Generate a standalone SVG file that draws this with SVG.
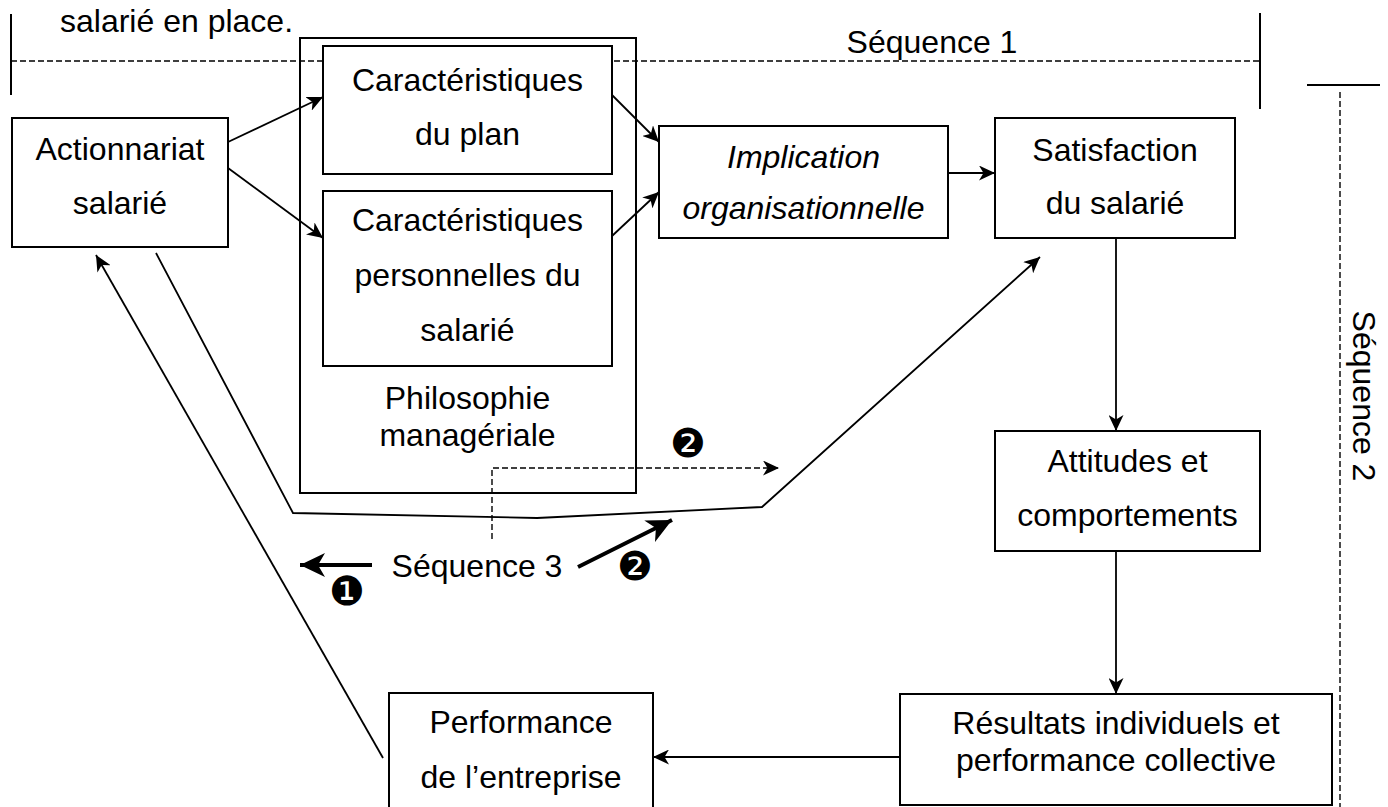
<svg xmlns="http://www.w3.org/2000/svg" width="1388" height="807" viewBox="0 0 1388 807">
<style>
  .box { fill: #fff; stroke: #000; stroke-width: 2; }
  .frame { fill: none; stroke: #000; stroke-width: 2; }
  .t { font-family: "Liberation Sans", Arial, sans-serif; font-size: 32px; fill: #000; text-anchor: middle; }
  .it { font-style: italic; }
  .c { fill: none; stroke: #000; stroke-width: 1.8; }
  .thick { fill: none; stroke: #000; stroke-width: 4; }
  .dash { fill: none; stroke: #000; stroke-width: 1.4; stroke-dasharray: 6 3; }
  .rule { fill: none; stroke: #000; stroke-width: 2; }
  .num { font-family: "DejaVu Sans", sans-serif; font-size: 40px; fill: #000; text-anchor: middle; }
</style>
<defs>
  <marker id="ah" markerUnits="userSpaceOnUse" markerWidth="17" markerHeight="15" refX="16" refY="7.5" orient="auto">
    <path d="M0,0 L16,7.5 L0,15 L4.5,7.5 z" fill="#000"/>
  </marker>
  <marker id="ahb" markerUnits="userSpaceOnUse" markerWidth="26" markerHeight="24" refX="25" refY="12" orient="auto">
    <path d="M0,0 L25,12 L0,24 L7,12 z" fill="#000"/>
  </marker>
</defs>
<rect width="1388" height="807" fill="#fff"/>

<g id="sequence-markers">
  <text class="t" x="60" y="32" style="text-anchor:start">salarié en place.</text>
  <line class="rule" x1="11" y1="14" x2="11" y2="95"/>
  <line class="rule" x1="1260" y1="13" x2="1260" y2="109"/>
  <line class="rule" x1="1307" y1="85" x2="1380" y2="85" stroke-width="2.5"/>
  <line class="dash" x1="1340" y1="92" x2="1340" y2="807"/>
  <text class="t" x="932" y="53">Séquence 1</text>
  <text class="t" transform="translate(1353,396) rotate(90)" x="0" y="0">Séquence 2</text>
</g>

<g id="philosophie">
  <rect class="frame" x="300" y="38" width="336" height="455"/>
  <text class="t" x="467.5" y="409">Philosophie</text>
  <text class="t" x="467.5" y="446">managériale</text>
</g>

<line class="dash" x1="11" y1="61" x2="1260" y2="61"/>

<g id="actionnariat">
  <rect class="box" x="12" y="118" width="216" height="129"/>
  <text class="t" x="120" y="160">Actionnariat</text>
  <text class="t" x="120" y="214">salarié</text>
</g>

<g id="car-plan">
  <rect class="box" x="323" y="46" width="289" height="128"/>
  <text class="t" x="467.5" y="91">Caractéristiques</text>
  <text class="t" x="467.5" y="145">du plan</text>
</g>

<g id="car-pers">
  <rect class="box" x="323" y="191" width="289" height="175"/>
  <text class="t" x="467.5" y="231">Caractéristiques</text>
  <text class="t" x="467.5" y="286">personnelles du</text>
  <text class="t" x="467.5" y="341">salarié</text>
</g>

<g id="implication">
  <rect class="box" x="659" y="126" width="289" height="112"/>
  <text class="t it" x="803.5" y="168">Implication</text>
  <text class="t it" x="803.5" y="219">organisationnelle</text>
</g>

<g id="satisfaction">
  <rect class="box" x="995" y="118" width="240" height="120"/>
  <text class="t" x="1115" y="161">Satisfaction</text>
  <text class="t" x="1115" y="214">du salarié</text>
</g>

<g id="attitudes">
  <rect class="box" x="995" y="431" width="265" height="120"/>
  <text class="t" x="1127.5" y="472">Attitudes et</text>
  <text class="t" x="1127.5" y="526">comportements</text>
</g>

<g id="resultats">
  <rect class="box" x="900" y="694" width="432" height="111"/>
  <text class="t" x="1116" y="734">Résultats individuels et</text>
  <text class="t" x="1116" y="771">performance collective</text>
</g>

<g id="performance">
  <rect class="box" x="389" y="693" width="264" height="130"/>
  <text class="t" x="521" y="733">Performance</text>
  <text class="t" x="521" y="788">de l’entreprise</text>
</g>

<g id="connectors">
  <line class="c" x1="228" y1="142" x2="323" y2="97" marker-end="url(#ah)"/>
  <line class="c" x1="228" y1="168" x2="323" y2="238" marker-end="url(#ah)"/>
  <line class="c" x1="612" y1="95" x2="659" y2="142" marker-end="url(#ah)"/>
  <line class="c" x1="612" y1="236" x2="659" y2="192" marker-end="url(#ah)"/>
  <line class="c" x1="948" y1="173" x2="995" y2="173" marker-end="url(#ah)"/>
  <line class="c" x1="1116" y1="238" x2="1116" y2="431" marker-end="url(#ah)"/>
  <line class="c" x1="1116" y1="551" x2="1116" y2="694" marker-end="url(#ah)"/>
  <line class="c" x1="900" y1="757" x2="653" y2="757" marker-end="url(#ah)"/>
  <line class="c" x1="383" y1="758" x2="96" y2="255" marker-end="url(#ah)"/>
  <polyline class="c" points="156,253 293,513 537,518 762,507 1040,257" marker-end="url(#ah)"/>
  <polyline class="dash" points="492,539 492,468 779,468" marker-end="url(#ah)"/>
  <line class="thick" x1="372" y1="565" x2="300" y2="565" marker-end="url(#ahb)"/>
  <line class="thick" x1="578" y1="567" x2="672" y2="520" marker-end="url(#ahb)"/>
</g>

<g id="sequence3">
  <text class="t" x="477" y="577">Séquence 3</text>
  <text class="num" x="347" y="605">❶</text>
  <text class="num" x="635" y="580">❷</text>
  <text class="num" x="688" y="457">❷</text>
</g>
</svg>
